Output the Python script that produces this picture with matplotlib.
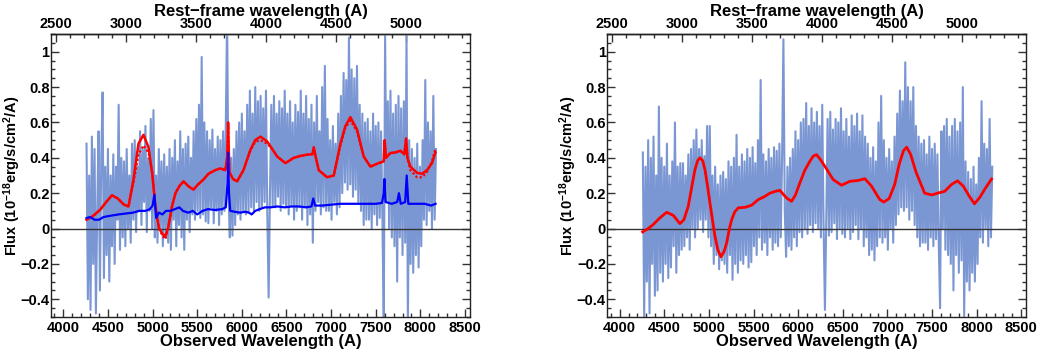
import numpy as np
import matplotlib
matplotlib.use('Agg')
import matplotlib.pyplot as plt
from matplotlib.ticker import MultipleLocator, FuncFormatter, FixedLocator

plt.rcParams['font.family'] = ['Liberation Sans', 'DejaVu Sans']
plt.rcParams['font.weight'] = 'bold'
plt.rcParams['mathtext.fontset'] = 'custom'
plt.rcParams['mathtext.rm'] = 'Liberation Sans:bold'
plt.rcParams['mathtext.bf'] = 'Liberation Sans:bold'
plt.rcParams['mathtext.default'] = 'bf'

# ---------------- data ----------------
redshift_factor = 1.567
spec_start = 4260
spec_step = 15
rest_ticks = [2500, 3000, 3500, 4000, 4500, 5000]

flux_left = [
    0.48, -0.40, 0.30, -0.46, 0.52, -0.20, 0.45, -0.48, 0.10, 0.55,
    -0.35, 0.40, 0.77, -0.28, 0.35, -0.15, 0.45, -0.30, 0.30, -0.10,
    0.42, -0.20, 0.35, 0.05, 0.70, -0.12, 0.40, -0.05, 0.38, -0.10,
    0.45, 0.00, 0.30, -0.08, 0.48, 0.05, 0.50, -0.02, 0.35, 0.10,
    0.55, 0.02, 0.45, 0.15, 0.58, -0.02, 0.40, 0.10, 0.62, 0.00,
    0.67, -0.05, 0.30, -0.08, 0.45, 0.00, 0.38, -0.10, 0.42, -0.05,
    0.35, -0.08, 0.45, -0.12, 0.40, 0.05, 0.50, -0.10, 0.38, 0.02,
    0.55, -0.05, 0.45, -0.12, 0.48, 0.05, 0.52, -0.02, 0.40, 0.08,
    0.55, 0.05, 0.62, 0.10, 0.70, 0.06, 0.97, 0.08, 0.60, 0.04,
    0.55, 0.03, 0.50, 0.12, 0.56, 0.03, 0.45, 0.10, 0.52, 0.02,
    0.50, 0.08, 0.55, 0.10, 0.58, 1.20, 0.20, -0.05, 0.40, -0.04,
    0.45, 0.02, 0.55, 0.08, 0.60, 0.05, 0.65, 0.10, 0.55, 0.08,
    0.70, 0.09, 0.78, 0.12, 0.65, 0.10, 0.80, 0.15, 0.72, 0.10,
    0.75, 0.12, 0.68, 0.15, 0.78, 0.10, -0.39, 0.20, 0.70, 0.13,
    0.75, 0.12, 0.65, 0.18, 0.72, 0.10, 0.68, 0.14, 0.78, 0.12,
    0.65, 0.08, 0.72, 0.13, 0.60, 0.05, 0.70, 0.10, 0.66, 0.12,
    0.78, 0.05, 0.65, 0.12, 0.75, 0.02, 0.62, 0.08, 0.70, -0.08,
    0.60, 0.10, 0.75, 0.15, 0.55, 0.08, 0.80, 0.12, 0.92, 0.10,
    0.62, 0.10, 0.50, 0.05, 0.58, 0.15, 0.48, 0.08, 0.65, 0.12,
    0.75, 0.20, 0.88, 0.26, 0.84, 0.22, 1.08, 0.25, 0.90, 0.18,
    0.85, 0.22, 0.92, 0.15, 0.70, 0.10, 0.65, 0.02, 0.60, 0.05,
    0.62, 0.05, 0.55, 0.00, 0.65, 0.08, 0.58, 0.02, 0.60, 0.06,
    0.55, 0.05, -0.55, 1.10, 0.15, 0.72, 0.00, 0.78, -0.05, 0.65,
    -0.10, 0.70, -0.30, 0.75, -0.05, 0.68, -0.15, 0.72, -0.08, 1.10,
    -0.55, 0.50, -0.20, 0.45, -0.25, 0.40, -0.15, 0.48, -0.22, 0.35,
    -0.10, 0.50, 0.05, 0.84, 0.02, 0.60, 0.10, 0.55, 0.00, 0.75,
    0.05, 0.45,
]

flux_right = [
    0.43, -0.50, 0.35, -0.30, 0.50, -0.48, 0.40, -0.20, 0.52, -0.38,
    0.30, -0.35, 0.69, -0.25, 0.40, -0.30, 0.35, -0.20, 0.48, -0.28,
    0.30, -0.22, 0.38, -0.10, 0.60, -0.25, 0.35, -0.15, 0.37, -0.12,
    0.37, -0.10, 0.30, -0.05, 0.42, -0.12, 0.45, 0.00, 0.50, -0.05,
    0.56, 0.00, 0.45, 0.05, 0.50, -0.02, 0.41, 0.05, 0.58, -0.05,
    0.58, -0.10, 0.30, -0.20, 0.35, -0.15, 0.25, -0.23, 0.30, -0.18,
    0.32, -0.20, 0.28, -0.25, 0.38, -0.15, 0.35, -0.29, 0.40, -0.20,
    0.53, -0.25, 0.35, -0.18, 0.42, -0.20, 0.38, -0.15, 0.45, -0.22,
    0.40, -0.19, 0.46, -0.10, 0.37, -0.15, 0.50, -0.05, 0.84, -0.12,
    0.42, -0.08, 0.38, -0.15, 0.45, -0.05, 0.40, -0.12, 0.46, -0.08,
    0.44, -0.10, 0.48, -0.05, 0.40, 1.07, 0.10, -0.16, 0.35, -0.10,
    0.40, -0.12, 0.45, -0.05, 0.55, -0.10, 0.50, -0.02, 0.60, -0.05,
    0.62, 0.00, 0.71, -0.03, 0.58, 0.02, 0.68, -0.02, 0.60, 0.03,
    0.66, 0.00, 0.58, -0.05, 0.70, 0.02, -0.46, 0.05, 0.62, -0.04,
    0.66, -0.02, 0.56, 0.03, 0.62, -0.06, 0.60, 0.00, 0.68, -0.03,
    0.55, -0.05, 0.62, 0.00, 0.52, -0.06, 0.64, -0.02, 0.58, 0.02,
    0.65, -0.06, 0.55, 0.00, 0.64, -0.10, 0.52, -0.05, 0.48, -0.15,
    0.40, -0.12, 0.46, -0.18, 0.38, -0.10, 0.60, -0.05, 0.75, -0.08,
    0.50, -0.05, 0.40, -0.12, 0.45, 0.00, 0.38, -0.08, 0.52, 0.02,
    0.65, 0.08, 0.78, 0.12, 0.72, 0.10, 0.94, 0.12, 0.80, 0.05,
    0.72, 0.10, 0.80, 0.02, 0.58, -0.05, 0.52, -0.10, 0.48, -0.08,
    0.50, -0.08, 0.42, -0.12, 0.52, -0.05, 0.45, -0.10, 0.48, -0.06,
    0.42, -0.08, -0.45, 0.55, 0.00, 0.58, -0.12, 0.62, -0.15, 0.52,
    -0.20, 0.58, -0.35, 0.62, -0.15, 0.55, -0.25, 0.60, -0.18, 0.80,
    -0.50, 0.38, -0.30, 0.32, -0.35, 0.28, -0.25, 0.35, -0.30, 0.25,
    -0.20, 0.40, -0.05, 0.72, -0.08, 0.48, 0.00, 0.45, -0.10, 0.62,
    -0.05, 0.35,
]

model_wave = [4260, 4330, 4414, 4480, 4545, 4610, 4677, 4730, 4786, 4842,
              4898, 4954, 4996, 5032, 5070, 5110, 5144, 5177, 5215, 5256,
              5300, 5346, 5400, 5458, 5510, 5570, 5626, 5700, 5760, 5816,
              5835, 5846, 5860, 5900, 5947, 6018, 6096, 6150, 6208, 6283,
              6340, 6395, 6488, 6582, 6650, 6731, 6790, 6806, 6830, 6862,
              6955, 7030, 7104, 7160, 7216, 7290, 7365, 7440, 7533, 7590,
              7600, 7615, 7664, 7720, 7776, 7820, 7840, 7855, 7888, 7962,
              8020, 8074, 8130, 8168]
model_flux = [0.05, 0.07, 0.107, 0.15, 0.188, 0.17, 0.136, 0.125, 0.277, 0.48,
              0.53, 0.46, 0.31, 0.125, 0.004, -0.03, -0.043, 0.01, 0.12, 0.20,
              0.24, 0.267, 0.24, 0.22, 0.25, 0.277, 0.31, 0.33, 0.34, 0.33,
              0.40, 0.60, 0.32, 0.28, 0.267, 0.33, 0.446, 0.50, 0.52, 0.493,
              0.45, 0.408, 0.37, 0.40, 0.41, 0.418, 0.42, 0.46, 0.40, 0.33,
              0.29, 0.30, 0.48, 0.58, 0.63, 0.56, 0.408, 0.35, 0.37, 0.38,
              0.50, 0.40, 0.427, 0.43, 0.44, 0.42, 0.51, 0.40, 0.35, 0.315,
              0.31, 0.33, 0.37, 0.43]
model2_flux = [0.05, 0.07, 0.107, 0.15, 0.188, 0.17, 0.136, 0.125, 0.26, 0.42,
               0.47, 0.43, 0.32, 0.125, 0.004, -0.04, -0.06, 0.01, 0.12, 0.20,
               0.24, 0.267, 0.24, 0.22, 0.25, 0.277, 0.31, 0.33, 0.34, 0.33,
               0.40, 0.58, 0.32, 0.28, 0.267, 0.33, 0.44, 0.49, 0.50, 0.48,
               0.45, 0.408, 0.37, 0.40, 0.41, 0.418, 0.42, 0.45, 0.40, 0.33,
               0.29, 0.30, 0.47, 0.57, 0.61, 0.55, 0.408, 0.35, 0.37, 0.38,
               0.48, 0.40, 0.427, 0.43, 0.44, 0.42, 0.50, 0.40, 0.33, 0.29,
               0.29, 0.32, 0.38, 0.45]

sky_wave = [4260, 4300, 4350, 4400, 4450, 4500, 4560, 4620, 4700, 4780,
            4850, 4920, 4970, 5000, 5020, 5040, 5070, 5110, 5150, 5200,
            5250, 5300, 5340, 5400, 5450, 5500, 5560, 5620, 5700, 5780,
            5820, 5838, 5846, 5856, 5870, 5920, 5980, 6040, 6080, 6110,
            6150, 6200, 6260, 6320, 6400, 6480, 6560, 6640, 6720, 6780,
            6800, 6820, 6900, 7000, 7100, 7200, 7300, 7400, 7500, 7570,
            7590, 7597, 7610, 7680, 7740, 7760, 7780, 7830, 7847, 7865,
            7950, 8050, 8120, 8170]
sky_flux = [0.06, 0.065, 0.05, 0.05, 0.065, 0.07, 0.075, 0.08, 0.085, 0.09,
            0.10, 0.10, 0.11, 0.13, 0.19, 0.06, 0.09, 0.08, 0.10, 0.10,
            0.11, 0.12, 0.10, 0.09, 0.10, 0.08, 0.10, 0.11, 0.105, 0.11,
            0.12, 0.25, 0.43, 0.20, 0.10, 0.095, 0.09, 0.095, 0.09, 0.08,
            0.10, 0.11, 0.12, 0.12, 0.125, 0.12, 0.125, 0.125, 0.12, 0.125,
            0.17, 0.13, 0.13, 0.135, 0.14, 0.14, 0.14, 0.14, 0.14, 0.145,
            0.20, 0.28, 0.15, 0.14, 0.15, 0.20, 0.14, 0.15, 0.30, 0.14,
            0.14, 0.14, 0.13, 0.14]

smooth_wave = [4258, 4320, 4377, 4450, 4527, 4600, 4676, 4720, 4769, 4810,
               4844, 4875, 4900, 4930, 4956, 4985, 5012, 5040, 5068, 5100,
               5135, 5170, 5199, 5230, 5255, 5290, 5329, 5404, 5479, 5553,
               5620, 5684, 5740, 5795, 5840, 5870, 5926, 5970, 6019, 6075,
               6131, 6170, 6206, 6250, 6299, 6392, 6486, 6579, 6672, 6747,
               6822, 6870, 6915, 6960, 7020, 7082, 7130, 7180, 7216, 7260,
               7320, 7417, 7500, 7560, 7640, 7720, 7786, 7850, 7920, 7976,
               8040, 8100, 8167]
smooth_flux = [-0.019, 0.0, 0.023, 0.06, 0.092, 0.075, 0.028, 0.05, 0.126, 0.24,
               0.333, 0.385, 0.40, 0.385, 0.333, 0.24, 0.145, 0.05, -0.043, -0.12,
               -0.16, -0.13, -0.081, 0.0, 0.05, 0.095, 0.117, 0.12, 0.132, 0.164,
               0.18, 0.2, 0.21, 0.216, 0.19, 0.173, 0.154, 0.19, 0.258, 0.33,
               0.38, 0.41, 0.418, 0.39, 0.352, 0.277, 0.245, 0.267, 0.272, 0.282,
               0.24, 0.2, 0.164, 0.15, 0.17, 0.25, 0.36, 0.44, 0.46, 0.42,
               0.32, 0.2, 0.19, 0.2, 0.21, 0.25, 0.27, 0.24, 0.18, 0.14,
               0.18, 0.23, 0.28]

spec_wave_left = spec_start + spec_step * np.arange(len(flux_left))
spec_wave_right = spec_start + spec_step * np.arange(len(flux_right))

SPEC_COLOR = '#7b97d3'
TICK_FS = 10.5
LABEL_FS = 12


def yfmt(v, pos):
    s = f'{round(v, 2):g}'
    if s == '-0':
        s = '0'
    return s.replace('-', '\u2212')


def style(ax):
    ax.set_xlim(3862, 8556)
    ax.set_ylim(-0.5, 1.1)
    ax.xaxis.set_major_locator(MultipleLocator(500))
    ax.xaxis.set_minor_locator(MultipleLocator(100))
    ax.yaxis.set_major_locator(MultipleLocator(0.2))
    ax.yaxis.set_minor_locator(MultipleLocator(0.05))
    ax.yaxis.set_major_formatter(FuncFormatter(yfmt))
    ax.tick_params(which='both', direction='in', top=False, right=True,
                   labelsize=TICK_FS, width=1.0, color='#333333')
    ax.tick_params(which='major', length=6, pad=3)
    ax.tick_params(axis='y', which='major', pad=1)
    ax.tick_params(which='minor', length=3)
    for sp in ax.spines.values():
        sp.set_linewidth(1.0)
        sp.set_color('#222222')
    ax.axhline(0, color='#333333', lw=1.0, zorder=2)
    ax.set_xlabel('Observed Wavelength (A)', fontsize=LABEL_FS, fontweight='bold', labelpad=-1)
    ax.set_ylabel(r'Flux (10$^{-18}$erg/s/cm$^{2}$/A)', fontsize=10.5,
                  fontweight='bold')
    ax.yaxis.set_label_coords(-0.068, 0.5)
    sec = ax.secondary_xaxis('top', functions=(lambda x: x / redshift_factor,
                                               lambda x: x * redshift_factor))
    sec.xaxis.set_major_locator(FixedLocator(rest_ticks))
    sec.xaxis.set_minor_locator(MultipleLocator(100))
    sec.tick_params(which='both', direction='in', labelsize=TICK_FS, width=1.0, color='#333333')
    sec.tick_params(which='major', length=6, pad=2)
    sec.tick_params(which='minor', length=3)
    sec.spines['top'].set_linewidth(1.0)
    sec.set_xlabel('Rest\u2212frame wavelength (A)', fontsize=LABEL_FS, fontweight='bold', labelpad=1)


fig = plt.figure(figsize=(10.4, 3.54), dpi=100)
ax1 = fig.add_axes([51 / 1040, 1 - 317 / 354, 419 / 1040, 283 / 354])
ax2 = fig.add_axes([607.3 / 1040, 1 - 317 / 354, 419 / 1040, 283 / 354])

ax1.plot(spec_wave_left, flux_left, color=SPEC_COLOR, lw=1.5, zorder=1)
ax1.plot(model_wave, model2_flux, color='red', lw=1.6, ls=(0, (1, 1)), zorder=3)
ax1.plot(model_wave, model_flux, color='red', lw=1.8, zorder=4)
ax1.plot(sky_wave, sky_flux, color='blue', lw=1.6, zorder=5)
style(ax1)

ax2.plot(spec_wave_right, flux_right, color=SPEC_COLOR, lw=1.5, zorder=1)
ax2.plot(smooth_wave, smooth_flux, color='red', lw=2.0, zorder=4)
style(ax2)

fig.savefig('out.png', dpi=100)
